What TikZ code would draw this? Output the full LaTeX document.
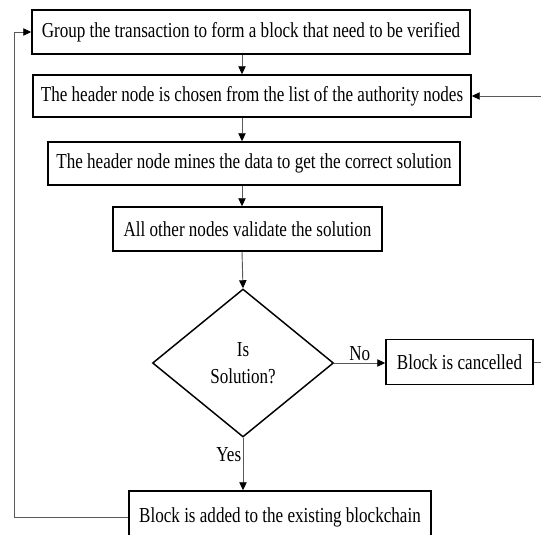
\documentclass[tikz,border=0pt]{standalone}
\usepackage{fontspec}
\setmainfont{Liberation Serif}[FakeStretch=0.8]
\usetikzlibrary{shapes.geometric,arrows.meta}

\begin{document}
\begin{tikzpicture}[x=0.75pt,y=-0.75pt,
  txt/.style={font=\fontsize{16}{18}\selectfont},
  box/.style={txt, draw=black, line width=1.1pt, rectangle, inner sep=0pt},
  decision/.style={draw=black, line width=1.1pt, diamond, aspect=1.22, inner sep=0pt,
    minimum width=135.75pt, minimum height=111pt, align=center,
    font=\fontsize{16}{20.25}\selectfont},
  link/.style={draw=black!65, line width=0.7pt, -{Triangle[length=6pt,width=5.5pt,color=black]}},
  lbl/.style={txt, inner sep=0pt}
]
\useasboundingbox (0,0) rectangle (541,534);

% rails used by the vertical flow and the two feedback loops
\coordinate (spine) at (242,0);
\coordinate (leftrail) at (14,0);
\coordinate (rightrail) at (552,0);

\node[box, minimum width=328.5pt, minimum height=33pt] (group) at (251,32)
  {Group the transaction to form a block that need to be verified};
\node[box, minimum width=328.5pt, minimum height=31.5pt] (header) at (252,96)
  {The header node is chosen from the list of the authority nodes};
\node[box, minimum width=309pt, minimum height=32.25pt] (mine) at (254,163.5)
  {The header node mines the data to get the correct solution};
\node[box, minimum width=201.75pt, minimum height=33pt] (validate) at (247.5,229)
  {All other nodes validate the solution};
\node[decision] (check) at (243,363) {Is\\Solution?};
\node[box, minimum width=110.25pt, minimum height=33.75pt] (cancel) at (459.5,362)
  {Block is cancelled};
\node[box, minimum width=226.5pt, minimum height=39pt] (added) at (280,517)
  {Block is added to the existing blockchain};

% main flow
\draw[link] (group.south -| spine) -- (header.north -| spine);
\draw[link] (header.south -| spine) -- (mine.north -| spine);
\draw[link] (mine.south -| spine) -- (validate.north -| spine);
\draw[link] (validate.south -| spine) -- (check.north);
\draw[link] (check.east) -- node[lbl, above=1pt] {No} (check.east -| cancel.west);
\draw[link] (check.south) -- node[lbl, pos=0.33, left=1pt] {Yes} (check.south |- added.north);

% feedback loops
\draw[link] (added.west) -- (added.west -| leftrail) |- (group.west);
\draw[link] (cancel.east) -- (cancel.east -| rightrail) |- (header.east);
\end{tikzpicture}
\end{document}
